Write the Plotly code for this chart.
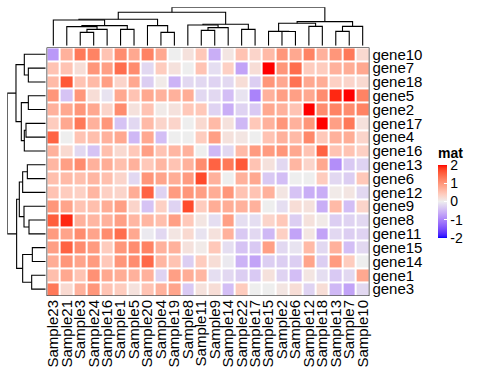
import plotly.graph_objects as go

genes = ["gene10", "gene7", "gene18", "gene5", "gene2", "gene17", "gene4", "gene16", "gene13",
         "gene6", "gene12", "gene9", "gene8", "gene11", "gene15", "gene14", "gene1", "gene3"]
samples = ["Sample23", "Sample21", "Sample3", "Sample24", "Sample16", "Sample1", "Sample5", "Sample20",
           "Sample4", "Sample19", "Sample8", "Sample11", "Sample9", "Sample14", "Sample22", "Sample17",
           "Sample15", "Sample2", "Sample6", "Sample12", "Sample18", "Sample13", "Sample7", "Sample10"]

# values, rows in display order (gene10 first), columns in display order
mat = [
    [-0.8, 0.7, 1.3, 1.2, 0.5, 1.1, 0.8, 1.2, 0.8, 0.0, 0.15, 0.45, -0.6, 0.1, 0.5, 0.3, 0.6, 1.0, 0.8, 1.2, 0.7, 1.0, 1.3, 0.25],
    [0.5, 0.5, 0.2, 1.0, 0.9, 1.4, 1.1, -0.2, 0.4, 0.15, 0.0, 0.5, -0.15, 0.35, -0.7, 0.2, 2.0, 1.0, 1.4, 0.4, 0.4, 0.7, 0.75, 0.8],
    [0.6, 1.6, 0.5, 0.6, 0.9, 0.3, 0.8, -0.3, 0.05, -0.55, -0.2, -0.2, -0.25, -0.2, 0.2, -0.3, 1.0, 0.8, 1.35, 0.8, 0.75, 0.35, 0.3, 0.25],
    [1.0, -0.4, 1.0, 0.2, -0.1, 0.8, 0.5, 0.8, 0.7, 0.7, 0.75, -0.2, -0.2, -0.45, -0.1, -1.0, 0.7, 0.9, 0.9, 0.8, 1.1, 1.9, 2.0, 1.2],
    [0.7, 0.8, 1.0, 0.8, 0.3, 1.1, 0.15, 0.5, 0.05, 0.15, 0.45, 0.45, -0.25, -0.6, -0.25, -0.35, 0.8, 0.7, 0.5, 2.0, 1.1, 1.2, 1.1, 1.2],
    [0.4, 0.8, 1.3, 0.7, 1.0, -0.4, -0.2, 0.6, 0.3, 0.3, 0.0, 0.25, 0.6, 0.15, -0.5, 0.45, 0.7, 1.0, 0.7, 1.0, 2.0, 0.9, 1.3, 0.15],
    [1.5, 0.0, 0.5, 0.55, 0.7, 0.8, -0.5, 0.8, -0.45, 0.0, 0.0, 0.4, 0.9, 0.15, 0.1, 0.0, 0.5, 0.7, 0.6, 1.15, 0.45, 0.7, 0.75, 0.3],
    [0.7, 0.25, -0.2, -0.4, 0.55, 0.25, 0.45, 0.9, 0.5, 0.65, 0.7, 0.0, -0.5, -0.2, 0.6, 0.95, 0.95, 1.0, 0.8, 0.5, 1.5, 0.5, 0.5, 0.35],
    [0.65, 0.9, 1.1, 0.7, 0.75, 0.55, 0.7, 0.45, 0.65, 0.5, 0.7, 1.1, 1.5, 1.3, 1.6, 0.5, 0.15, -0.2, 0.65, 0.3, 0.8, -0.9, -0.35, -0.25],
    [0.55, 0.6, 0.55, 0.65, 0.55, 0.3, -0.2, 1.0, 0.85, 0.75, 0.95, 1.7, 0.7, 0.0, 0.7, 0.8, -0.35, -0.45, 0.0, 0.0, 0.4, -0.2, -0.3, 0.45],
    [0.5, 0.4, 0.35, 0.65, 0.35, 0.3, 0.75, 1.5, -0.25, 0.95, 1.0, 0.9, 0.75, 1.0, 0.5, 0.5, 0.7, 0.1, -0.4, -0.6, -0.6, 0.05, 0.1, -0.2],
    [1.0, 0.85, 0.5, 0.55, 0.75, 0.9, 0.3, -0.4, 0.35, -0.25, 1.7, 0.4, 0.75, 0.75, 0.7, 0.7, 0.0, -0.15, 0.2, 0.15, -0.6, 0.6, -0.45, 0.3],
    [1.55, 1.9, 0.7, 0.65, 0.7, 0.9, 0.65, 0.65, 0.55, 0.9, 0.45, 0.1, -0.15, 0.9, -0.15, -0.15, 0.3, 0.45, -0.3, 0.15, 0.05, -0.3, -0.25, -0.2],
    [0.95, 0.85, 1.1, 0.85, 1.1, 1.4, 0.8, -0.05, -0.2, 0.1, 0.25, -0.1, 0.15, 0.7, -0.35, -0.2, -0.5, 0.35, -0.7, 0.1, -0.7, -0.2, -0.3, -0.25],
    [0.9, 1.5, 1.1, 0.95, 0.4, 1.0, 1.1, 1.2, 0.7, 0.7, 0.15, 0.05, 0.45, -0.15, -0.4, -0.35, 0.9, -0.2, -0.1, 0.6, -0.2, 0.7, -0.45, -0.2],
    [0.75, 1.0, 0.85, 0.95, 0.45, 1.0, 1.1, 1.45, 0.65, 0.5, -0.3, 0.4, 0.2, -0.05, -0.55, -0.7, -0.3, -0.3, -0.3, 0.85, -0.3, 0.95, 0.4, 0.0],
    [0.55, 0.8, 0.5, 1.05, 0.8, 0.75, 0.7, 0.7, -0.25, 0.9, 0.75, 0.65, -0.15, -0.2, -0.3, -0.35, 0.15, -0.25, -0.45, 0.1, -0.15, -0.35, -0.2, 0.8],
    [1.3, 0.25, 0.7, 1.0, 0.5, 0.4, 0.15, 0.5, 0.7, 0.85, -0.35, 0.15, 0.2, -0.45, 0.4, 0.0, 0.0, 0.1, 0.2, -0.25, 0.2, -0.5, -0.7, -0.2],
]

# dendrogram merges: (child_a, child_b, height); ids < n are leaves, n+k is k-th merge
col_merges = [
    (2, 3, 3.48), (24, 4, 4.26), (5, 6, 4.26), (1, 25, 4.96), (27, 26, 5.22), (0, 28, 6.70),
    (8, 9, 3.48), (7, 30, 5.22), (29, 31, 6.87),
    (11, 12, 4.0), (33, 13, 4.70), (14, 15, 4.26), (10, 34, 5.39), (36, 35, 5.57), (32, 37, 8.70),
    (17, 18, 3.70), (16, 39, 3.74), (19, 20, 5.04), (40, 41, 5.83),
    (21, 22, 3.74), (43, 23, 5.04), (42, 44, 6.26), (38, 45, 10.0),
]
row_merges = [
    (1, 2, 4.52), (0, 18, 5.57), (3, 4, 4.52), (5, 6, 5.13), (21, 7, 5.57), (20, 22, 6.35), (19, 23, 7.74),
    (8, 9, 4.78), (25, 10, 6.0), (12, 13, 4.35), (11, 27, 5.65), (26, 28, 6.87),
    (14, 15, 3.48), (16, 17, 3.65), (30, 31, 6.0), (29, 32, 7.57), (24, 33, 10.0),
]

legend_ticks = [-2, -1, 0, 1, 2]


def dendro(merges, n):
    pos = list(range(n))
    hts = [0.0] * n
    p, h = [], []
    for a, b, ht in merges:
        p += [pos[a], pos[a], pos[b], pos[b], None]
        h += [hts[a], ht, ht, hts[b], None]
        pos.append((pos[a] + pos[b]) / 2)
        hts.append(ht)
    return p, h


# ---- LAB colour interpolation (blue - #EEEEEE - red) ----
def _lin(c):
    c = c / 255.0
    return c / 12.92 if c <= 0.04045 else ((c + 0.055) / 1.055) ** 2.4


def _delin(c):
    c = 12.92 * c if c <= 0.0031308 else 1.055 * c ** (1 / 2.4) - 0.055
    return max(0, min(255, round(c * 255)))


WP = (0.95047, 1.0, 1.08883)


def rgb2lab(rgb):
    r, g, b = [_lin(v) for v in rgb]
    X = 0.4124 * r + 0.3576 * g + 0.1805 * b
    Y = 0.2126 * r + 0.7152 * g + 0.0722 * b
    Z = 0.0193 * r + 0.1192 * g + 0.9505 * b
    f = lambda t: t ** (1 / 3) if t > 216 / 24389 else (24389 / 27 * t + 16) / 116
    fx, fy, fz = f(X / WP[0]), f(Y / WP[1]), f(Z / WP[2])
    return (116 * fy - 16, 500 * (fx - fy), 200 * (fy - fz))


def lab2rgb(lab):
    L, a, b = lab
    fy = (L + 16) / 116
    fx = fy + a / 500
    fz = fy - b / 200
    inv = lambda t: t ** 3 if t ** 3 > 216 / 24389 else (116 * t - 16) / (24389 / 27)
    X, Y, Z = inv(fx) * WP[0], inv(fy) * WP[1], inv(fz) * WP[2]
    r = 3.2406 * X - 1.5372 * Y - 0.4986 * Z
    g = -0.9689 * X + 1.8758 * Y + 0.0415 * Z
    bb = 0.0557 * X - 0.2040 * Y + 1.0570 * Z
    return "rgb(%d,%d,%d)" % (_delin(max(r, 0)), _delin(max(g, 0)), _delin(max(bb, 0)))


blue, mid, red = rgb2lab((0, 0, 255)), rgb2lab((238, 238, 238)), rgb2lab((255, 0, 0))
cscale = []
N = 40
for i in range(N + 1):
    t = i / N
    if t <= 0.5:
        u = t / 0.5
        lab = [blue[k] + (mid[k] - blue[k]) * u for k in range(3)]
    else:
        u = (t - 0.5) / 0.5
        lab = [mid[k] + (red[k] - mid[k]) * u for k in range(3)]
    cscale.append([t, lab2rgb(lab)])

W, H = 480, 384
FONT = "Liberation Sans, Arial, sans-serif"
hx = [46.6 / W, 369.4 / W]
hy = [1 - 296.0 / H, 1 - 47.4 / H]
cdy = [1 - 45.7 / H, 1 - 7.3 / H]
rdx = [7.3 / W, 45.7 / W]

ncol, nrow = len(samples), len(genes)

fig = go.Figure()
fig.add_trace(go.Heatmap(
    z=mat, x=list(range(ncol)), y=list(range(nrow)),
    colorscale=cscale, zmin=-2, zmax=2, xgap=2, ygap=2,
    hoverinfo="skip",
    colorbar=dict(
        x=438 / W, xanchor="left", xref="paper",
        y=1 - 238.0 / H, yanchor="bottom", yref="paper",
        len=(238.0 - 144.0) / H, lenmode="fraction", thickness=9, thicknessmode="pixels",
        outlinewidth=0, xpad=0, ypad=0,
        tickvals=legend_ticks, ticktext=[str(v) for v in legend_ticks],
        ticks="inside", tickcolor="white", ticklen=3, tickwidth=1,
        tickfont=dict(family=FONT, size=14, color="black"),
        title=dict(text="<b>mat</b>", side="top", font=dict(family=FONT, size=14, color="black")),
    ),
))

cp, ch = dendro(col_merges, ncol)
fig.add_trace(go.Scatter(x=cp, y=ch, mode="lines", line=dict(color="black", width=1.1),
                         xaxis="x2", yaxis="y2", hoverinfo="skip", showlegend=False))
rp, rh = dendro(row_merges, nrow)
fig.add_trace(go.Scatter(x=rh, y=rp, mode="lines", line=dict(color="black", width=1.1),
                         xaxis="x3", yaxis="y3", hoverinfo="skip", showlegend=False))

fig.add_shape(type="rect", xref="x", yref="y", x0=-0.5, x1=ncol - 0.5, y0=-0.5, y1=nrow - 0.5,
              line=dict(color="black", width=1.2), fillcolor="rgba(0,0,0,0)")

fig.update_layout(
    width=W, height=H, margin=dict(l=0, r=0, t=0, b=0, autoexpand=False),
    paper_bgcolor="white", plot_bgcolor="white", showlegend=False,
    xaxis=dict(domain=hx, range=[-0.5, ncol - 0.5], tickvals=list(range(ncol)), ticktext=samples,
               tickangle=-90, showgrid=False, zeroline=False, ticks="", showline=False, automargin=False,
               tickfont=dict(family=FONT, size=15, color="black"), anchor="y"),
    yaxis=dict(domain=hy, range=[nrow - 0.5, -0.5], tickvals=list(range(nrow)), ticktext=genes,
               side="right", showgrid=False, zeroline=False, ticks="", showline=False, automargin=False,
               ticklabelstandoff=2,
               tickfont=dict(family=FONT, size=15, color="black"), anchor="x"),
    xaxis2=dict(domain=hx, range=[-0.5, ncol - 0.5], visible=False, anchor="y2"),
    yaxis2=dict(domain=cdy, range=[0, 10], visible=False, anchor="x2"),
    xaxis3=dict(domain=rdx, range=[10, 0], visible=False, anchor="y3"),
    yaxis3=dict(domain=hy, range=[nrow - 0.5, -0.5], visible=False, anchor="x3"),
)

fig.write_html("out.html", config={"displayModeBar": False},
               post_script="document.body.style.margin='0px';")
